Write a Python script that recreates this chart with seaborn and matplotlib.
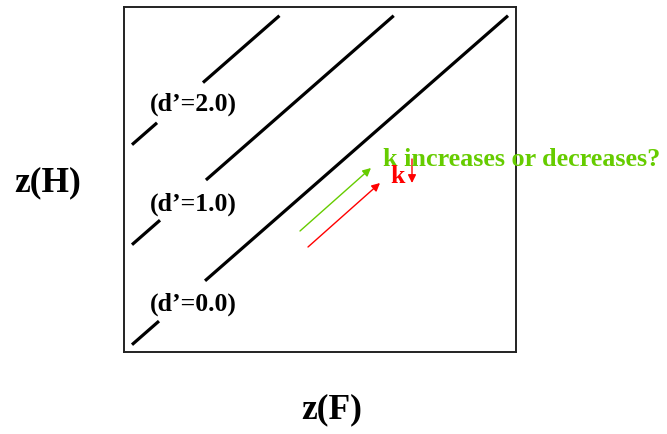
import matplotlib
matplotlib.use("Agg")
import matplotlib.pyplot as plt
import seaborn as sns
import pandas as pd

# Iso-sensitivity lines in z-space: z(H) = z(F) + d'
d_primes = [0.0, 1.0, 2.0]
d_labels = ["(d\u2019=0.0)", "(d\u2019=1.0)", "(d\u2019=2.0)"]

# each line is broken where its label sits: lower piece and upper piece (z(F) extents)
lower_start = [-1.63, -1.63, -1.63]
lower_end = [-1.394, -1.385, -1.411]
upper_start = [-0.991, -0.983, -1.009]
top_zH = 1.66  # all lines stop at the same z(H)

label_zF = -1.473
label_drop = 1.22  # labels sit below their line's intercept

# shift arrows: green (criterion change), red (k)
green_arrow = [(-0.160, -0.493), (0.461, 0.137)]
red_arrow = [(-0.090, -0.653), (0.540, -0.013)]
k_arrow = [(0.82, 0.227), (0.82, -0.013)]

question = "k increases or decreases?"
question_pos = (0.566, 0.167)
k_pos = (0.627, -0.003)

GREEN = "#66CC00"
RED = "#FF0000"

rows = []
for i, d in enumerate(d_primes):
    for part, (a, b) in enumerate([(lower_start[i], lower_end[i]),
                                   (upper_start[i], top_zH - d)]):
        seg = f"{i}-{part}"
        for zf in (a, b):
            rows.append({"seg": seg, "zF": zf, "zH": zf + d})
segs = pd.DataFrame(rows)

sns.set_style("white")
plt.rcParams["font.family"] = ["Liberation Serif", "DejaVu Serif"]
plt.rcParams["font.weight"] = "bold"
plt.rcParams["text.color"] = "black"

fig = plt.figure(figsize=(6.67, 4.35), dpi=100)
ax = fig.add_axes([124 / 667, (435 - 353) / 435, 392 / 667, 345 / 435])

sns.lineplot(data=segs, x="zF", y="zH", units="seg", estimator=None, sort=False,
             color="black", linewidth=2.3, ax=ax, solid_capstyle="butt")

ax.set_xlim(-1.7, 1.73)
ax.set_ylim(-1.703, 1.747)
ax.set_xticks([])
ax.set_yticks([])
ax.set_xlabel("")
ax.set_ylabel("")
for sp in ax.spines.values():
    sp.set_visible(True)
    sp.set_color("#222222")
    sp.set_linewidth(1.4)

for d, lab in zip(d_primes, d_labels):
    ax.text(label_zF, d - label_drop, lab, ha="left", va="center",
            fontsize=18.5, fontweight="bold", color="black")

for (start, end), col in [(green_arrow, GREEN), (red_arrow, RED), (k_arrow, RED)]:
    ax.annotate("", xy=end, xytext=start,
                arrowprops=dict(arrowstyle="-|>", color=col, lw=1.0,
                                mutation_scale=12, shrinkA=0, shrinkB=0))

ax.text(*question_pos, question, ha="left", va="baseline", fontsize=18.8,
        fontweight="bold", color=GREEN, clip_on=False)
ax.text(*k_pos, "k", ha="left", va="baseline", fontsize=18.5,
        fontweight="bold", color=RED, clip_on=False)

fig.text(48 / 667, 1 - 183 / 435, "z(H)", ha="center", va="center",
         fontsize=25.5, fontweight="bold", color="black")
fig.text(332 / 667, 1 - 410 / 435, "z(F)", ha="center", va="center",
         fontsize=25.5, fontweight="bold", color="black")

fig.savefig("out.png", dpi=100, facecolor="white")
